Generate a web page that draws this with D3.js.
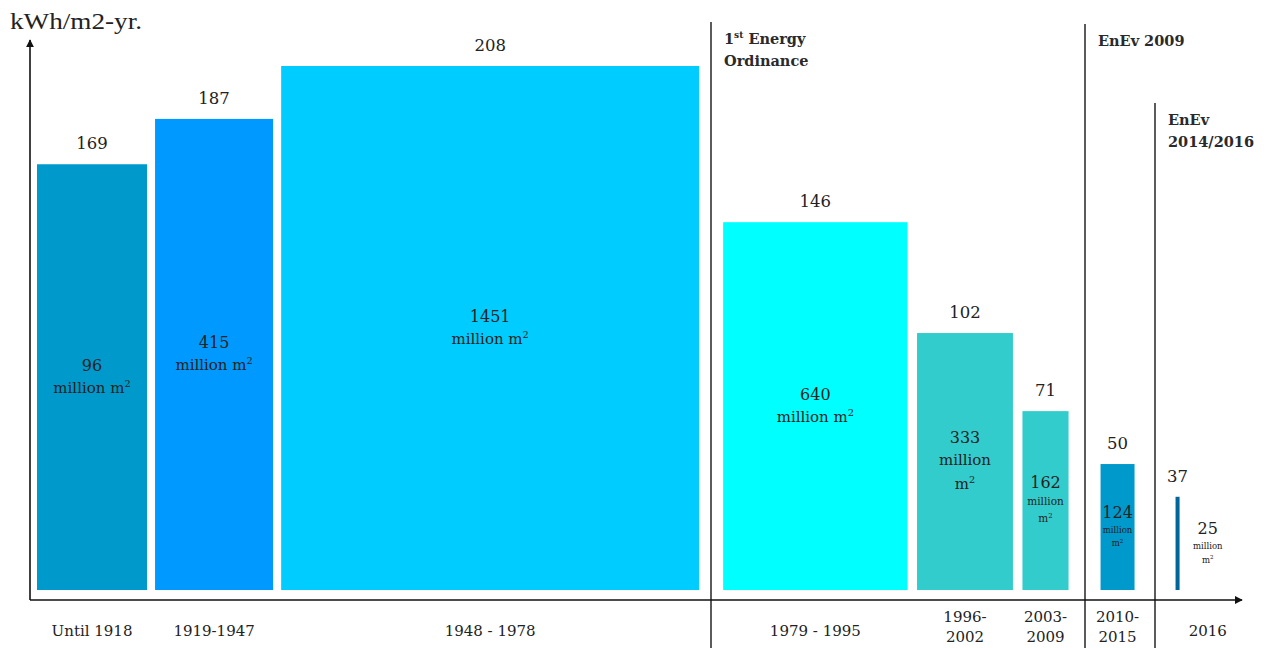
<!DOCTYPE html>
<html>
<head>
<meta charset="utf-8">
<script src="https://cdn.jsdelivr.net/npm/d3@7"></script>
<style>
  html, body { margin: 0; padding: 0; background: #fff; }
  svg { display: block; }
  text { fill: #222; }
</style>
</head>
<body>
<script>
// heating demand by building age (kWh/m2-yr.), column width ~ floor area

var periods = ["Until 1918", "1919-1947", "1948 - 1978", "1979 - 1995", "1996-2002", "2003-2009", "2010-2015", "2016"];
var demand = [169, 187, 208, 146, 102, 71, 50, 37];
var floorArea = [96, 415, 1451, 640, 333, 162, 124, 25];
// widths as drawn in the source chart (first and last column are not to scale there)
var drawnArea = [382, 410, 1451, 640, 333, 160, 118, 14];
var era = [0, 0, 0, 1, 1, 1, 2, 3];
var regulations = [null, ["1st Energy", "Ordinance"], ["EnEv 2009"], ["EnEv", "2014/2016"]];
var barColors = ["#0099cc", "#0099ff", "#00ccff", "#00ffff", "#33cccc", "#33cccc", "#0099cc", "#006699"];

var W = 1277, H = 648;
var serif = "'DejaVu Serif', serif";

var svg = d3.select("body").append("svg")
            .attr("width", W)
            .attr("height", H);

var y = d3.scaleLinear().domain([0, 208]).range([590, 66]);
var w = d3.scaleLinear().domain([0, 1451]).range([0, 418]);

// lay the columns out left to right, wider gap where a new regulation starts
var gap = [8, 9.5, 0, 0], eraGap = [24, 32, 41], sepTop = [22, 24, 103];
var bars = [], seps = [], cx = 37;
periods.forEach(function (p, i) {
  if (i > 0) {
    if (era[i] !== era[i - 1]) {
      var g = eraGap[era[i] - 1];
      seps.push({x: Math.round(cx + g / 2), top: sepTop[era[i] - 1], era: era[i]});
      cx += g;
    } else {
      cx += gap[era[i]];
    }
  }
  var bw = Math.max(w(drawnArea[i]), 4);
  bars.push({i: i, x: cx, w: bw, v: demand[i], a: floorArea[i], p: p, c: barColors[i]});
  cx += bw;
});
var right = 1260;

// markers
var defs = svg.append("defs");
defs.append("marker")
    .attr("id", "arrow")
    .attr("viewBox", "0 0 10 10")
    .attr("refX", 9).attr("refY", 5)
    .attr("markerWidth", 5).attr("markerHeight", 5)
    .attr("orient", "auto")
  .append("path")
    .attr("d", "M0,0 L10,5 L0,10 z")
    .attr("fill", "#111");

// separators
svg.selectAll("line.sep")
   .data(seps)
   .enter().append("line")
   .attr("class", "sep")
   .attr("x1", function (d) { return d.x; })
   .attr("x2", function (d) { return d.x; })
   .attr("y1", function (d) { return d.top; })
   .attr("y2", H)
   .attr("stroke", "#333")
   .attr("stroke-width", 1.6);

svg.selectAll("text.reg")
   .data(seps)
   .enter().append("text")
   .attr("class", "reg")
   .attr("x", function (d) { return d.x + 13; })
   .attr("y", function (d) { return d.top + 22; })
   .style("font-family", serif)
   .style("font-size", "14.5px")
   .style("font-weight", "bold")
   .style("fill", "#2a2a2a")
   .each(function (d) {
     var t = d3.select(this), lines = regulations[d.era];
     lines.forEach(function (l, k) {
       if (l.indexOf("1st") === 0) {
         t.append("tspan").attr("x", d.x + 13).attr("dy", k ? 22 : 0).text("1");
         t.append("tspan").attr("dy", -6).style("font-size", "9px").text("st");
         t.append("tspan").attr("dy", 6).text(" " + l.slice(4));
       } else {
         t.append("tspan").attr("x", d.x + 13).attr("dy", k ? 22 : 0).text(l);
       }
     });
   });

// bars
svg.selectAll("rect.bar")
   .data(bars)
   .enter().append("rect")
   .attr("class", "bar")
   .attr("x", function (d) { return d.x; })
   .attr("y", function (d) { return y(d.v); })
   .attr("width", function (d) { return d.w; })
   .attr("height", function (d) { return y(0) - y(d.v); })
   .attr("fill", function (d) { return d.c; });

// demand values above bars
svg.selectAll("text.val")
   .data(bars)
   .enter().append("text")
   .attr("class", "val")
   .attr("x", function (d) { return d.x + d.w / 2; })
   .attr("y", function (d) { return y(d.v) - 15; })
   .attr("text-anchor", "middle")
   .style("font-family", serif)
   .style("font-size", "16.5px")
   .text(function (d) { return d.v; });

// where labels go for a column too thin to hold them
function labelX(d) {
  return d.w < 20 ? (d.x + d.w + right) / 2 - 12 : d.x + d.w / 2;
}

// floor area inside bars
bars.forEach(function (d) {
  var us = d.w >= 90 ? 15 : d.w >= 40 ? 10.5 : 8.5;
  var lines;
  if (d.w >= 100) lines = [{t: d.a, s: 16, h: 22}, {t: "million m", s: us, h: 22, sq: true}];
  else lines = [{t: d.a, s: 16, h: us > 12 ? 22 : 19}, {t: "million", s: us, h: us > 12 ? 22 : us * 1.6}, {t: "m", s: us, h: us * 1.6, sq: true}];
  var total = d3.sum(lines, function (l) { return l.h; });
  var lx = labelX(d);
  var acc = y(d.v / 2) - total / 2;
  lines.forEach(function (l) {
    acc += l.h;
    var t = svg.append("text")
       .attr("x", lx)
       .attr("y", acc - l.h * 0.28)
       .attr("text-anchor", "middle")
       .style("font-family", serif)
       .style("font-size", l.s + "px");
    if (l.sq) {
      t.append("tspan").text(l.t);
      t.append("tspan").attr("dy", -l.s * 0.4).style("font-size", (l.s * 0.65) + "px").text("2");
    } else {
      t.text(l.t);
    }
  });
});

// axes (d3 axes without ticks, arrow heads on the ends)
var yAxisScale = d3.scaleLinear().domain([1, 0]).range([40, 600]);
var gy = svg.append("g")
   .attr("transform", "translate(30,0)")
   .call(d3.axisLeft(yAxisScale).tickValues([]).tickSizeOuter(0));
gy.select(".domain").remove();
gy.append("line")
   .attr("x1", 0).attr("x2", 0)
   .attr("y1", yAxisScale(0)).attr("y2", yAxisScale(1))
   .attr("stroke", "#111").attr("stroke-width", 1.6)
   .attr("marker-end", "url(#arrow)");

var xAxisScale = d3.scaleLinear().domain([0, 1]).range([30, 1242]);
var gx = svg.append("g")
   .attr("transform", "translate(0,600)")
   .call(d3.axisBottom(xAxisScale).tickValues([]).tickSizeOuter(0));
gx.select(".domain").remove();
gx.append("line")
   .attr("x1", xAxisScale(0)).attr("x2", xAxisScale(1))
   .attr("y1", 0).attr("y2", 0)
   .attr("stroke", "#111").attr("stroke-width", 1.6)
   .attr("marker-end", "url(#arrow)");

svg.append("text")
   .attr("x", 10)
   .attr("y", 29)
   .attr("textLength", 132)
   .attr("lengthAdjust", "spacingAndGlyphs")
   .style("font-family", "'Liberation Serif', serif")
   .style("font-size", "23px")
   .text("kWh/m2-yr.");

// period labels under the axis
svg.selectAll("text.period")
   .data(bars)
   .enter().append("text")
   .attr("class", "period")
   .attr("text-anchor", "middle")
   .style("font-family", serif)
   .style("font-size", "15px")
   .each(function (d) {
     var t = d3.select(this);
     var lx = labelX(d);
     var parts = d.w < 100 && d.p.indexOf("-") > 0 && d.p.indexOf(" ") < 0 ? [d.p.split("-")[0] + "-", d.p.split("-")[1]] : [d.p];
     if (parts.length === 1) {
       t.append("tspan").attr("x", lx).attr("y", 636).text(parts[0]);
     } else {
       t.append("tspan").attr("x", lx).attr("y", 622).text(parts[0]);
       t.append("tspan").attr("x", lx).attr("y", 642).text(parts[1]);
     }
   });
</script>
</body>
</html>
